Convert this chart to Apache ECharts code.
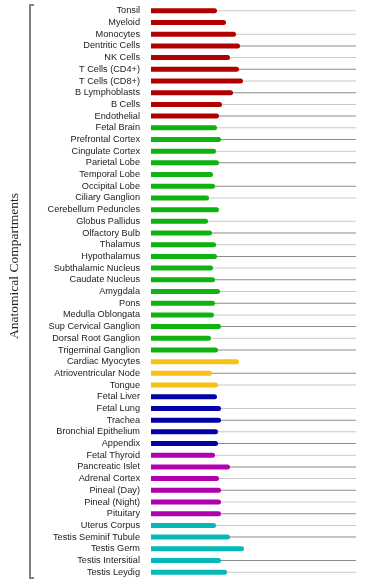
<!DOCTYPE html>
<html>
<head>
<meta charset="utf-8">
<style>
  html, body { margin: 0; padding: 0; background: #fff; }
  #chart { width: 377px; height: 585px; }
</style>
<script src="https://cdn.jsdelivr.net/npm/echarts@6/dist/echarts.min.js"></script>
</head>
<body>
<div id="chart"></div>
<script>
// tissues, top to bottom
const categories = [
  'Tonsil', 'Myeloid', 'Monocytes', 'Dentritic Cells', 'NK Cells',
  'T Cells (CD4+)', 'T Cells (CD8+)', 'B Lymphoblasts', 'B Cells', 'Endothelial',
  'Fetal Brain', 'Prefrontal Cortex', 'Cingulate Cortex', 'Parietal Lobe', 'Temporal Lobe',
  'Occipital Lobe', 'Ciliary Ganglion', 'Cerebellum Peduncles', 'Globus Pallidus', 'Olfactory Bulb',
  'Thalamus', 'Hypothalamus', 'Subthalamic Nucleus', 'Caudate Nucleus', 'Amygdala',
  'Pons', 'Medulla Oblongata', 'Sup Cervical Ganglion', 'Dorsal Root Ganglion', 'Trigeminal Ganglion',
  'Cardiac Myocytes', 'Atrioventricular Node', 'Tongue',
  'Fetal Liver', 'Fetal Lung', 'Trachea', 'Bronchial Epithelium', 'Appendix',
  'Fetal Thyroid', 'Pancreatic Islet', 'Adrenal Cortex', 'Pineal (Day)', 'Pineal (Night)', 'Pituitary',
  'Uterus Corpus', 'Testis Seminif Tubule', 'Testis Germ', 'Testis Intersitial', 'Testis Leydig'
];

const values = [
  66, 75, 85, 89, 79, 88, 92, 82, 71, 68,
  66, 70, 65, 68, 62, 64, 58, 68, 57, 61,
  65, 66, 62, 64, 69, 64, 63, 70, 60, 67,
  88, 61, 67,
  66, 70, 70, 67, 67,
  64, 79, 68, 70, 70, 70,
  65, 79, 93, 70, 76
];

// colour group of each row
const groups = [
  'imm', 'imm', 'imm', 'imm', 'imm', 'imm', 'imm', 'imm', 'imm', 'imm',
  'neu', 'neu', 'neu', 'neu', 'neu', 'neu', 'neu', 'neu', 'neu', 'neu',
  'neu', 'neu', 'neu', 'neu', 'neu', 'neu', 'neu', 'neu', 'neu', 'neu',
  'mus', 'mus', 'mus',
  'epi', 'epi', 'epi', 'epi', 'epi',
  'end', 'end', 'end', 'end', 'end', 'end',
  'rep', 'rep', 'rep', 'rep', 'rep'
];

// thin background track per row: L light, D dark, '' none
const tracks = [
  'L', '', 'L', 'D', 'L', 'D', 'L', 'D', 'L', 'D',
  'L', 'D', 'L', 'D', '', 'D', 'L', '', 'L', 'D',
  'L', 'D', 'L', 'D', 'L', 'D', 'L', 'D', 'L', 'D',
  '', 'D', 'L',
  '', 'L', 'D', 'L', 'D',
  'L', 'D', 'L', 'D', 'L', 'D',
  'L', 'D', '', 'D', 'L'
];

const axisMax = 205;
const axisTitle = 'Anatomical Compartments';

const groupColors = {
  imm: '#b10000', neu: '#0fb30f', mus: '#f7c116',
  epi: '#0202a8', end: '#b000b0', rep: '#05b9b9'
};
const trackColors = { L: '#c9c9c9', D: '#8c8c8c' };

const chart = echarts.init(document.getElementById('chart'));

chart.setOption({
  animation: false,
  grid: { left: 151, right: 21, top: 5, bottom: 7 },
  xAxis: { type: 'value', min: 0, max: axisMax, show: false },
  yAxis: [
    {
      type: 'category',
      data: categories,
      inverse: true,
      axisLine: { show: false },
      axisTick: { show: false },
      axisLabel: {
        interval: 0,
        margin: 11,
        fontSize: 9.2,
        fontFamily: 'Liberation Sans, Arial, sans-serif',
        color: '#222'
      }
    },
    {
      type: 'category',
      data: categories,
      inverse: true,
      position: 'left',
      offset: 121,
      axisLine: { show: true, lineStyle: { color: '#808080', width: 2 } },
      axisTick: { show: false },
      axisLabel: { show: false }
    }
  ],
  graphic: [
    {
      type: 'polyline',
      shape: { points: [[34, 5], [30, 5], [30, 578], [34, 578]] },
      style: { stroke: '#808080', lineWidth: 2, fill: null }
    },
    {
      type: 'text',
      x: 14,
      y: 266,
      rotation: Math.PI / 2,
      style: {
        text: axisTitle,
        font: '13.5px "Liberation Serif", "Times New Roman", serif',
        fill: '#222',
        align: 'center',
        verticalAlign: 'middle'
      }
    }
  ],
  series: [
    {
      name: 'track',
      type: 'bar',
      yAxisIndex: 1,
      barWidth: 1,
      silent: true,
      data: tracks.map(t => t ? { value: axisMax, itemStyle: { color: trackColors[t] } } : '-')
    },
    {
      name: 'value',
      type: 'bar',
      yAxisIndex: 0,
      barWidth: 5,
      data: values.map((v, i) => ({
        value: v,
        itemStyle: { color: groupColors[groups[i]], borderRadius: [0, 2.5, 2.5, 0] }
      }))
    }
  ]
});
</script>
</body>
</html>
